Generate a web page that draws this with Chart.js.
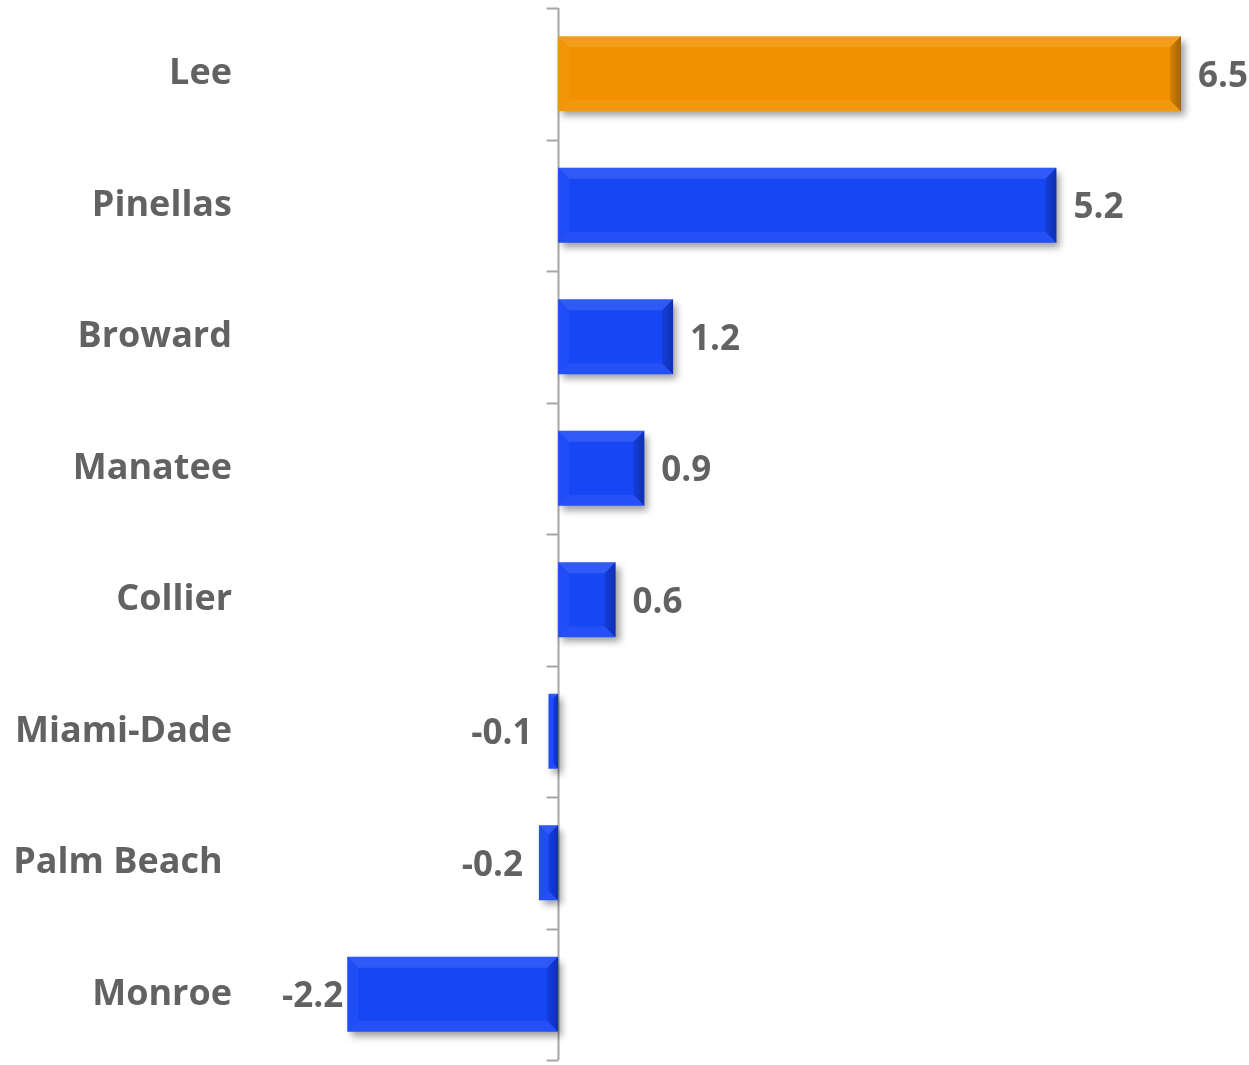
<!DOCTYPE html>
<html>
<head>
<meta charset="utf-8">
<script src="https://cdn.jsdelivr.net/npm/chart.js@4.4.1/dist/chart.umd.min.js"></script>
<style>
  html, body { margin: 0; padding: 0; background: #fff; }
  #wrap { width: 1249px; height: 1065px; position: relative; }
</style>
</head>
<body>
<div id="wrap"><canvas id="countyChart"></canvas></div>
<script>
const counties = ["Lee", "Pinellas", "Broward", "Manatee", "Collier", "Miami-Dade", "Palm Beach ", "Monroe"];
const changeValues = [6.5, 5.2, 1.2, 0.9, 0.6, -0.1, -0.2, -2.2];
const highlightIndex = 0;

const ORANGE = "#f29100";
const BLUE = "#1746f5";
const LABEL_FONT = "bold 35px 'Open Sans', sans-serif";
const LABEL_COLOR = "#626262";

// zero line with small tick marks between categories
const zeroAxis = {
  id: "zeroAxis",
  beforeDatasetsDraw(chart) {
    const { ctx, chartArea, scales } = chart;
    const x0 = Math.round(scales.x.getPixelForValue(0)) + 0.5;
    const half = (scales.y.getPixelForValue(1) - scales.y.getPixelForValue(0)) / 2;
    ctx.save();
    ctx.strokeStyle = "#a6a6a6";
    ctx.lineWidth = 2;
    ctx.beginPath();
    ctx.moveTo(x0, chartArea.top);
    ctx.lineTo(x0, chartArea.bottom);
    for (let i = 0; i <= counties.length; i++) {
      const y = Math.round(scales.y.getPixelForValue(i) - half) + 0.5;
      ctx.moveTo(x0 - 12, y);
      ctx.lineTo(x0, y);
    }
    ctx.stroke();
    ctx.restore();

    // soft drop shadow for the bars
    ctx.save();
    ctx.shadowColor = "rgba(0,0,0,0.38)";
    ctx.shadowBlur = 7;
    ctx.shadowOffsetX = 4;
    ctx.shadowOffsetY = 5;
  },
  afterDatasetsDraw(chart) {
    const { ctx, chartArea } = chart;
    ctx.restore();

    const meta = chart.getDatasetMeta(0);
    meta.data.forEach((bar, i) => {
      const l = Math.min(bar.x, bar.base);
      const r = Math.max(bar.x, bar.base);
      const t = bar.y - bar.height / 2;
      const b = bar.y + bar.height / 2;
      const s = Math.min(11, (r - l) / 2);

      const poly = (pts, fill) => {
        ctx.beginPath();
        ctx.moveTo(pts[0][0], pts[0][1]);
        pts.slice(1).forEach(p => ctx.lineTo(p[0], p[1]));
        ctx.closePath();
        ctx.fillStyle = fill;
        ctx.fill();
      };
      ctx.save();
      poly([[l, t], [r, t], [r - s, t + s], [l + s, t + s]], "rgba(255,255,255,0.11)");
      poly([[l, t], [l + s, t + s], [l + s, b - s], [l, b]], "rgba(255,255,255,0.04)");
      poly([[l, b], [l + s, b - s], [r - s, b - s], [r, b]], "rgba(255,255,255,0.06)");
      const g = ctx.createLinearGradient(r - s, 0, r, 0);
      g.addColorStop(0, "rgba(0,0,30,0.12)");
      g.addColorStop(1, "rgba(0,0,30,0.32)");
      poly([[r, t], [r, b], [r - s, b - s], [r - s, t + s]], g);
      ctx.restore();

      // value label
      const v = changeValues[i];
      const text = v.toFixed(1);
      ctx.save();
      ctx.font = LABEL_FONT;
      ctx.fillStyle = LABEL_COLOR;
      ctx.textBaseline = "middle";
      if (v >= 0) {
        ctx.textAlign = "left";
        ctx.fillText(text, bar.x + 17, bar.y + 3);
      } else {
        const w = ctx.measureText(text).width;
        const x = Math.min(Math.max(bar.x - 16, chartArea.left + w), bar.x - 4);
        ctx.textAlign = "right";
        ctx.fillText(text, x, bar.y + 3);
      }
      ctx.restore();
    });
  }
};

new Chart(document.getElementById("countyChart"), {
  type: "bar",
  data: {
    labels: counties,
    datasets: [{
      data: changeValues,
      backgroundColor: (c) => (c.dataIndex === highlightIndex ? ORANGE : BLUE),
      borderWidth: 0,
      categoryPercentage: 1,
      barPercentage: 0.57,
    }],
  },
  options: {
    indexAxis: "y",
    responsive: true,
    maintainAspectRatio: false,
    animation: false,
    layout: { padding: { top: 8, bottom: 5, left: 0, right: 0 } },
    scales: {
      x: {
        display: false,
        min: -2.86,
        max: 7.21,
      },
      y: {
        afterFit: (scale) => {
          scale.width = 284;
          scale.paddingTop = 0;
          scale.paddingBottom = 0;
        },
        grid: { display: false, drawTicks: false },
        border: { display: false },
        ticks: {
          padding: 52,
          color: LABEL_COLOR,
          font: { family: "'Open Sans', sans-serif", size: 36, weight: "bold" },
        },
      },
    },
    plugins: {
      legend: { display: false },
      tooltip: { enabled: false },
    },
  },
  plugins: [zeroAxis],
});
</script>
</body>
</html>
